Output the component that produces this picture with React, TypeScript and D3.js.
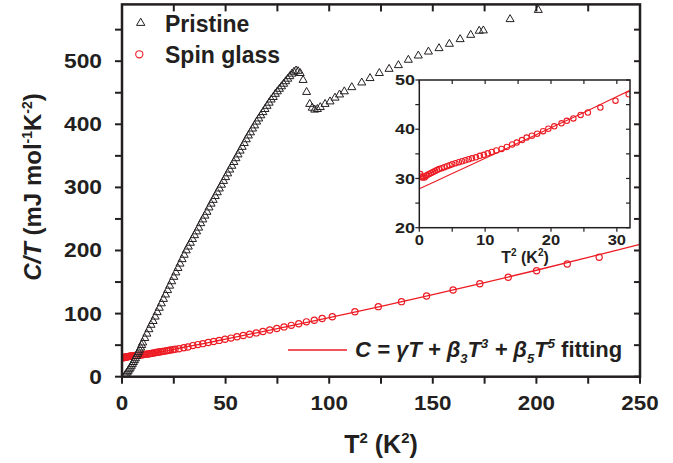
import React from 'react';
import * as d3 from 'd3';

// pristine sample, C/T vs T^2
const pristineT2 = [1.5, 2, 2.5, 3, 3.5, 4, 4.5, 5, 5.5, 6, 6.5, 7, 7.5, 8, 8.5, 9, 9.5, 10, 11, 12, 13, 14, 15, 16, 17, 18, 19, 20, 21, 22, 23, 24, 25, 26, 27, 28, 29, 30, 31, 32, 33, 34, 35, 36, 37, 38, 39, 40, 41, 42, 43, 44, 45, 46, 47, 48, 49, 50, 51, 52, 53, 54, 55, 56, 57, 58, 59, 60, 61, 62, 63, 64, 65, 66, 67, 68, 69, 70, 71, 72, 73, 74, 75, 76, 77, 78, 79, 80, 81, 82, 83, 84, 85, 86, 87.4, 89.1, 90.6, 91.8, 93.0, 94.3, 95.7, 98.0, 100.4, 102.8, 105.0, 107.3, 110.9, 115.7, 119.7, 124.2, 128.9, 133.4, 138.2, 143, 147.9, 153, 158, 163.2, 168.3, 172.4, 174.4, 187.3, 200.9, 216];
const pristineCT = [2, 4, 6.5, 9, 11.5, 14, 17, 20, 23, 26, 29, 32.5, 36, 39, 42.5, 46, 50, 54, 61, 68, 75, 82, 88, 95, 102, 109, 116, 123, 130, 137, 144, 151, 158, 165, 172, 179, 186, 193, 200, 206, 212, 218, 224, 230, 236, 243, 249, 255, 261, 268, 274, 280, 286, 292, 298, 304, 310, 316, 322, 328, 334, 340, 346, 352, 358, 364, 370, 376, 382, 387, 393, 398, 404, 409, 414, 419, 424, 429, 434, 439, 443, 448, 452, 456, 460, 464, 468, 472, 476, 480, 483, 485, 484, 481, 470, 451, 432, 426, 423, 424, 427, 432, 436, 442, 447, 452, 458.6, 466, 473, 481, 487.6, 493.5, 502, 508.7, 515, 520.4, 527.3, 534.7, 541.5, 548, 548.5, 566.4, 581, 596];

// spin glass sample
const spinT2 = [0.15, 0.3, 0.45, 0.6, 0.8, 1.0, 1.2, 1.5, 1.8, 2.1, 2.4, 2.7, 3.0, 3.4, 3.8, 4.2, 4.6, 5.0, 5.5, 6.0, 6.5, 7.0, 7.5, 8.0, 8.6, 9.2, 9.8, 10.4, 11.0, 11.7, 12.5, 13.3, 14.1, 14.8, 15.6, 16.3, 17.1, 17.9, 18.8, 19.6, 20.5, 21.6, 22.4, 23.4, 24.5, 25.6, 27.5, 29.8, 31.8, 34.2, 36.6, 39.0, 41.6, 44.2, 46.9, 49.7, 52.6, 55.5, 58.5, 61.6, 64.8, 68.0, 71.3, 74.7, 78.2, 81.7, 85.3, 89.0, 92.8, 96.6, 101.5, 112.4, 123.7, 134.9, 147, 159.8, 172.7, 186.4, 200.1, 214.9, 230.3];
const spinCT = [30.9, 30.4, 30.2, 30.3, 30.2, 30.5, 30.7, 30.9, 31.1, 31.3, 31.5, 31.7, 31.9, 32.1, 32.3, 32.5, 32.7, 32.9, 33.1, 33.3, 33.5, 33.7, 33.9, 34.1, 34.3, 34.6, 34.8, 35.1, 35.4, 35.7, 36.0, 36.4, 36.9, 37.3, 37.8, 38.3, 38.7, 39.1, 39.6, 40.1, 40.6, 41.2, 41.7, 42.2, 42.9, 43.4, 44.4, 45.8, 47.1, 49.3, 50.9, 52.4, 54.1, 55.8, 57.5, 59.3, 61.2, 63.2, 65.2, 67.3, 69.4, 71.7, 74.0, 76.3, 78.9, 81.4, 84.0, 86.9, 89.5, 92.3, 95.0, 103, 111, 118.9, 127.9, 137.4, 147.4, 157.5, 168, 178.6, 189.2];

// fitted curve
const fitT2 = [0, 5, 10, 15, 20, 25, 32, 40, 50, 75, 100, 125, 150, 175, 200, 225, 250];
const fitCT = [27.9, 31.0, 34.1, 37.2, 40.3, 43.4, 47.9, 52.9, 59.6, 76.3, 93.6, 111.5, 130.0, 149.1, 168.7, 189.0, 209.8];

const xTicks = [0, 50, 100, 150, 200, 250];
const yTicks = [0, 100, 200, 300, 400, 500];
const insetXTicks = [0, 10, 20, 30];
const insetYTicks = [20, 30, 40, 50];

const ink = '#231f20';
const red = '#ed1c24';
const font = '"Liberation Sans", Arial, Helvetica, sans-serif';

function Label(props: any) {
  const { x, y, sx = 1, anchor = 'middle', size, children, style } = props;
  return (
    <text
      transform={`translate(${x},${y}) scale(${sx},1)`}
      textAnchor={anchor}
      fontSize={size}
      fontWeight="bold"
      fontFamily={font}
      fill={ink}
      style={style}>
      {children}
    </text>
  );
}

export default function App() {
  const x = d3.scaleLinear().domain([0, 250]).range([122, 640]);
  const y = d3.scaleLinear().domain([0, 590]).range([376.7, 4.4]);
  const ix = d3.scaleLinear().domain([0, 32]).range([419.3, 630]);
  const iy = d3.scaleLinear().domain([20, 50]).range([227.7, 80]);

  const tri = d3.symbol(d3.symbolTriangle, 28)() as string;
  const tri2 = d3.symbol(d3.symbolTriangle, 30)() as string;

  const fitMain = d3.line<number>()
    .x((d) => x(d))
    .y((d, i) => y(fitCT[i]))
    .curve(d3.curveMonotoneX)(fitT2) as string;
  const insetFitIdx = fitT2.map((d, i) => i).filter((i) => fitT2[i] <= 40);
  const fitInset = d3.line<number>()
    .x((i) => ix(fitT2[i]))
    .y((i) => iy(fitCT[i]))
    .curve(d3.curveMonotoneX)(insetFitIdx) as string;

  const [x0, x1] = x.range();
  const [y0, y1] = y.range();
  const [ix0, ix1] = ix.range();
  const [iy0, iy1] = iy.range();

  return (
    <div style={{ position: 'absolute', left: 0, top: 0 }}>
      <svg width={673} height={463} style={{ display: 'block', background: '#fff' }}>
        <defs>
          <clipPath id="mainClip">
            <rect x={x0} y={y1} width={x1 - x0} height={y0 - y1} />
          </clipPath>
          <clipPath id="insetClip">
            <rect x={ix0} y={iy1} width={ix1 - ix0} height={iy0 - iy1} />
          </clipPath>
        </defs>

        {/* main data */}
        <g clipPath="url(#mainClip)">
          <path d={fitMain} fill="none" stroke={red} strokeWidth={1.3} />
          {spinT2.map((d, i) => (
            <circle key={'s' + i} cx={x(d)} cy={y(spinCT[i])} r={3.1}
              fill="none" stroke={red} strokeWidth={1.2} />
          ))}
          {pristineT2.map((d, i) => (
            <path key={'p' + i} d={tri} transform={`translate(${x(d)},${y(pristineCT[i])})`}
              fill="#fff" fillOpacity={0.15} stroke={ink} strokeWidth={1} />
          ))}
        </g>

        {/* main frame and ticks */}
        <rect x={x0} y={y1} width={x1 - x0} height={y0 - y1} fill="none" stroke={ink} strokeWidth={2.5} />
        {d3.range(0, 251, 25).map((t) => (
          <g key={'xt' + t}>
            <line x1={x(t)} x2={x(t)} y1={y0} y2={y0 + 7} stroke={ink} strokeWidth={2} />
            <line x1={x(t)} x2={x(t)} y1={y1} y2={y1 + 7} stroke={ink} strokeWidth={2} />
          </g>
        ))}
        {d3.range(0, 591, 50).map((t) => (
          <g key={'yt' + t}>
            <line x1={x0 - 7} x2={x0} y1={y(t)} y2={y(t)} stroke={ink} strokeWidth={2} />
            <line x1={x1 - 6} x2={x1} y1={y(t)} y2={y(t)} stroke={ink} strokeWidth={2} />
          </g>
        ))}
        {xTicks.map((t) => (
          <Label key={'xl' + t} x={x(t)} y={410} sx={1.12} size={20}>{t}</Label>
        ))}
        {yTicks.map((t) => (
          <Label key={'yl' + t} x={102} y={y(t) + 7} sx={1.14} anchor="end" size={20}>{t}</Label>
        ))}

        {/* axis titles */}
        <Label x={381} y={453} size={25}>
          T<tspan dy={-10} fontSize={15}>2</tspan><tspan dy={10}> (K</tspan><tspan dy={-10} fontSize={15}>2</tspan><tspan dy={10}>)</tspan>
        </Label>
        <text transform="translate(41,187) rotate(-90)" textAnchor="middle" fontSize={24}
          fontWeight="bold" fontFamily={font} fill={ink}>
          <tspan fontStyle="italic">C/T</tspan> (mJ mol<tspan dy={-9} fontSize={14}>-1</tspan><tspan dy={9}>K</tspan><tspan dy={-9} fontSize={14}>-2</tspan><tspan dy={9}>)</tspan>
        </text>

        {/* legend */}
        <path d={tri2} transform="translate(140.7,23)" fill="none" stroke={ink} strokeWidth={1} />
        <Label x={165} y={32.3} size={23} anchor="start">Pristine</Label>
        <circle cx={139.3} cy={54.3} r={3.6} fill="none" stroke={red} strokeWidth={1.1} />
        <Label x={165} y={62.7} size={23} anchor="start">Spin glass</Label>

        <line x1={288} x2={347} y1={350} y2={350} stroke={red} strokeWidth={1.5} />
        <text x={355} y={357.3} fontSize={22} fontWeight="bold" fontFamily={font} fill={ink}>
          <tspan fontStyle="italic">C = γT + β</tspan>
          <tspan dy={6} fontSize={13} fontStyle="italic">3</tspan>
          <tspan dy={-6} fontStyle="italic">T</tspan>
          <tspan dy={-9} fontSize={13} fontStyle="italic">3</tspan>
          <tspan dy={9} fontStyle="italic"> + β</tspan>
          <tspan dy={6} fontSize={13} fontStyle="italic">5</tspan>
          <tspan dy={-6} fontStyle="italic">T</tspan>
          <tspan dy={-9} fontSize={13} fontStyle="italic">5</tspan>
          <tspan dy={9}> fitting</tspan>
        </text>

        {/* inset */}
        <rect x={ix0} y={iy1} width={ix1 - ix0} height={iy0 - iy1} fill="#fff" />
        <g clipPath="url(#insetClip)">
          <path d={fitInset} fill="none" stroke={red} strokeWidth={1.1} />
          {spinT2.map((d, i) => (
            <circle key={'is' + i} cx={ix(d)} cy={iy(spinCT[i])} r={2.7}
              fill="none" stroke={red} strokeWidth={1.1} />
          ))}
        </g>
        <rect x={ix0} y={iy1} width={ix1 - ix0} height={iy0 - iy1} fill="none" stroke={ink} strokeWidth={1.5} />
        {d3.range(0, 33, 5).map((t) => (
          <g key={'ixt' + t}>
            <line x1={ix(t)} x2={ix(t)} y1={iy0} y2={iy0 + 4} stroke={ink} strokeWidth={1.2} />
            <line x1={ix(t)} x2={ix(t)} y1={iy1} y2={iy1 + 4} stroke={ink} strokeWidth={1.2} />
          </g>
        ))}
        {d3.range(20, 51, 5).map((t) => (
          <g key={'iyt' + t}>
            <line x1={ix0 - 4} x2={ix0} y1={iy(t)} y2={iy(t)} stroke={ink} strokeWidth={1.2} />
            <line x1={ix1 - 4} x2={ix1} y1={iy(t)} y2={iy(t)} stroke={ink} strokeWidth={1.2} />
          </g>
        ))}
        {insetXTicks.map((t) => (
          <Label key={'ixl' + t} x={ix(t)} y={245} sx={1.1} size={15}>{t}</Label>
        ))}
        {insetYTicks.map((t) => (
          <Label key={'iyl' + t} x={415} y={iy(t) + 5.2} sx={1.2} anchor="end" size={15}>{t}</Label>
        ))}
        <Label x={525} y={263} size={16}>
          T<tspan dy={-7} fontSize={10}>2</tspan><tspan dy={7}> (K</tspan><tspan dy={-7} fontSize={10}>2</tspan><tspan dy={7}>)</tspan>
        </Label>
      </svg>
    </div>
  );
}
